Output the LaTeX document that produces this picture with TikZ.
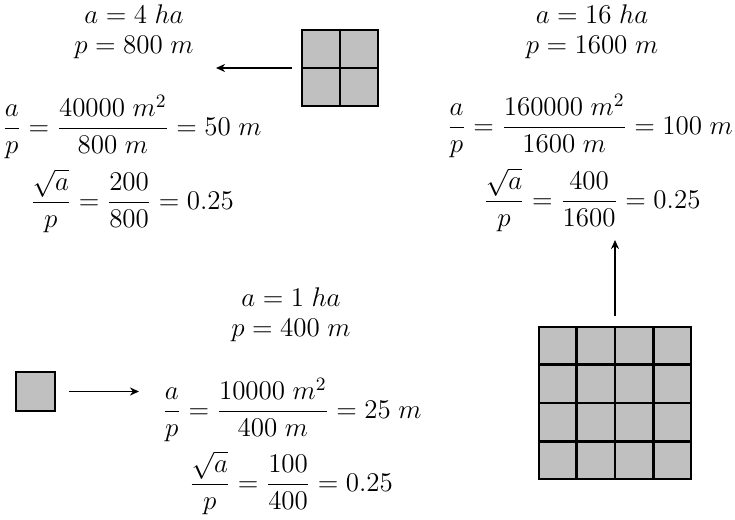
\RequirePackage{fix-cm}
\documentclass[tikz,border=0pt]{standalone}
\usepackage{amsmath}
\usetikzlibrary{calc,arrows.meta}
\definecolor{cellColor}{RGB}{192,192,192}
\newcommand{\eqfont}{\fontsize{13.5}{15}\selectfont}

\begin{document}
\begin{tikzpicture}[x=0.5pt, y=-0.5pt,
    txt/.style={align=center, font=\eqfont, inner sep=0pt},
    field/.style={draw, line width=1.4pt, fill=cellColor, inner sep=0pt},
    cellline/.style={line width=1.4pt},
    arr/.style={-{Stealth[length=4.5pt, width=4pt]}, line width=0.9pt}
  ]
  \useasboundingbox (0,0) rectangle (735,520);

  % fields of 1, 4 and 16 ha
  \node[field, minimum size=19.5pt] (one) at (35.5,391.5) {};
  \node[field, minimum size=38pt] (two) at (340,68) {};
  \draw[cellline] (two.north) -- (two.south);
  \draw[cellline] (two.west) -- (two.east);
  \node[field, minimum size=76pt] (four) at (615,403) {};
  \foreach \k in {1,2,3} {
    \draw[cellline] ($(four.north west)!\k/4!(four.north east)$) -- ($(four.south west)!\k/4!(four.south east)$);
    \draw[cellline] ($(four.north west)!\k/4!(four.south west)$) -- ($(four.north east)!\k/4!(four.south east)$);
  }

  % 4 ha
  \node[txt] (hdTwo) at (134,32) {$a = 4\;ha$\\ $p = 800\;m$};
  \node[txt] (ratTwo) at (132,127) {$\dfrac{a}{p} = \dfrac{40000\;m^2}{800\;m} = 50\;m$};
  \node[txt] (rootTwo) at (132,201) {$\dfrac{\sqrt{a}}{p} = \dfrac{200}{800} = 0.25$};

  % 16 ha
  \node[txt] (hdFour) at (592,31.5) {$a = 16\;ha$\\ $p = 1600\;m$};
  \node[txt] (ratFour) at (590,126) {$\dfrac{a}{p} = \dfrac{160000\;m^2}{1600\;m} = 100\;m$};
  \node[txt] (rootFour) at (592,200) {$\dfrac{\sqrt{a}}{p} = \dfrac{400}{1600} = 0.25$};

  % 1 ha
  \node[txt] (hdOne) at (291,315) {$a = 1\;ha$\\ $p = 400\;m$};
  \node[txt] (ratOne) at (292,410) {$\dfrac{a}{p} = \dfrac{10000\;m^2}{400\;m} = 25\;m$};
  \node[txt] (rootOne) at (291,483) {$\dfrac{\sqrt{a}}{p} = \dfrac{100}{400} = 0.25$};

  \coordinate (tipTwo) at (216,68);
  \coordinate (tipFour) at (615,240);
  \coordinate (tipOne) at (139,391.5);
  \draw[arr, shorten <=4.5pt] (two) -- (tipTwo);
  \draw[arr, shorten <=5pt] (four) -- (tipFour);
  \draw[arr, shorten <=6.5pt] (one) -- (tipOne);
\end{tikzpicture}
\end{document}
